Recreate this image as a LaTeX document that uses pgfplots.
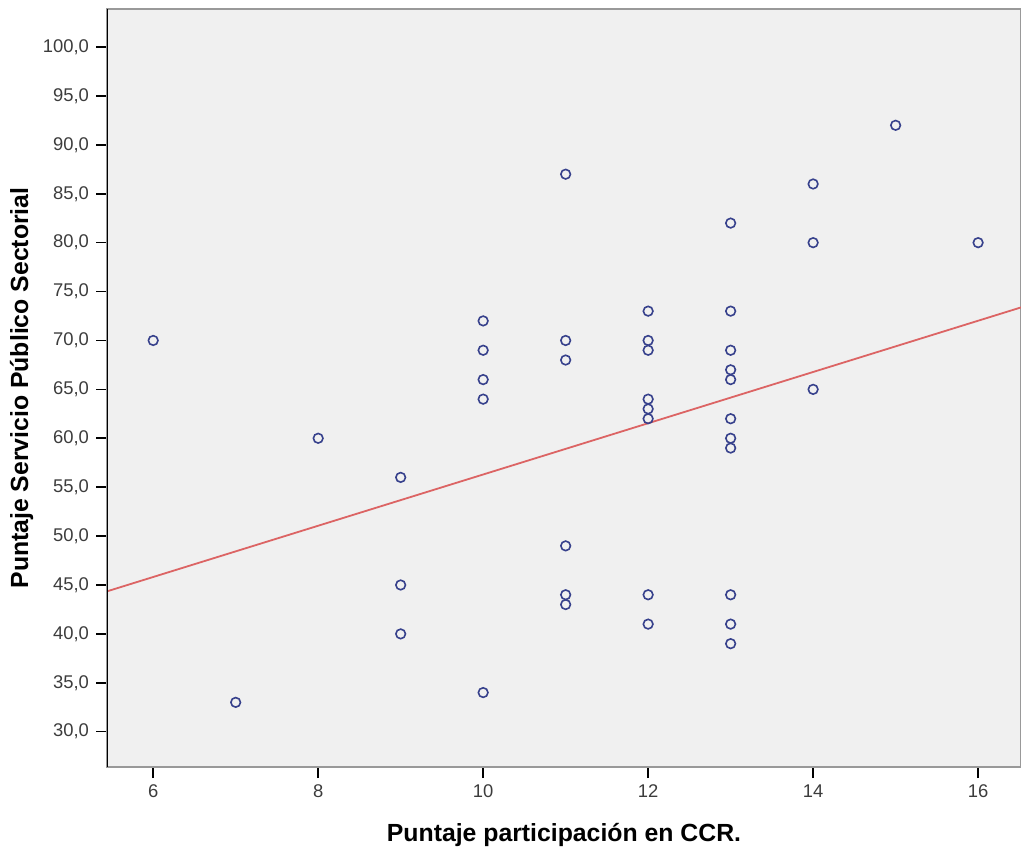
\documentclass[border=0pt]{standalone}
\usepackage{fontspec}
\setmainfont{Liberation Sans}
\usepackage{pgfplots}
\pgfplotsset{compat=1.18}
\definecolor{bgc}{RGB}{240,240,240}
\definecolor{ptc}{RGB}{55,65,140}
\definecolor{fitc}{RGB}{220,100,100}
\definecolor{tickc}{RGB}{60,60,60}
\begin{document}
\begin{tikzpicture}
\path[use as bounding box] (-53.5pt,-40pt) rectangle (457pt,383.5pt);
\begin{axis}[
  at={(0,0)}, anchor=south west,
  scale only axis, width=457pt, height=379pt,
  xmin=5.44, xmax=16.52, ymin=26.39, ymax=103.89,
  xtick={6,8,...,16}, ytick={30,35,...,100},
  axis background/.style={fill=bgc},
  axis line style={draw=gray!80, line width=0.8pt},
  tick align=outside, xtick pos=bottom, ytick pos=left,
  major tick length=5.5pt,
  tick style={black, line width=0.8pt},
  /pgf/number format/assume math mode=true,
  ticklabel style={font=\fontsize{9.2}{10}\selectfont, text=tickc},
  yticklabel style={/pgf/number format/fixed, /pgf/number format/fixed zerofill, /pgf/number format/precision=1, /pgf/number format/use comma},
  label style={font=\fontsize{12.4}{14}\selectfont\bfseries},
  xlabel={Puntaje participación en CCR.},
  ylabel={Puntaje Servicio Público Sectorial},
  xlabel style={at={(axis description cs:0.5,-0.0989)}, anchor=base},
  ylabel style={at={(axis description cs:-0.0864,0.5)}, anchor=base},
]
\addplot[only marks, mark=o, mark size=2.4pt, mark options={ptc, line width=0.8pt}] coordinates {
(6,70) (7,33) (8,60)
(9,56) (9,45) (9,40)
(10,72) (10,69) (10,66) (10,64) (10,34)
(11,87) (11,70) (11,68) (11,49) (11,44) (11,43)
(12,73) (12,70) (12,69) (12,64) (12,63) (12,62) (12,44) (12,41)
(13,82) (13,73) (13,69) (13,67) (13,66) (13,62) (13,60) (13,59) (13,44) (13,41) (13,39)
(14,86) (14,80) (14,65)
(15,92) (16,80)
};
\addplot[fitc, line width=0.9pt] coordinates {(5.44,44.35) (16.52,73.38)};
\draw[black, line width=1.2pt] (rel axis cs:0,0) -- (rel axis cs:0,1);
\end{axis}
\end{tikzpicture}
\end{document}
